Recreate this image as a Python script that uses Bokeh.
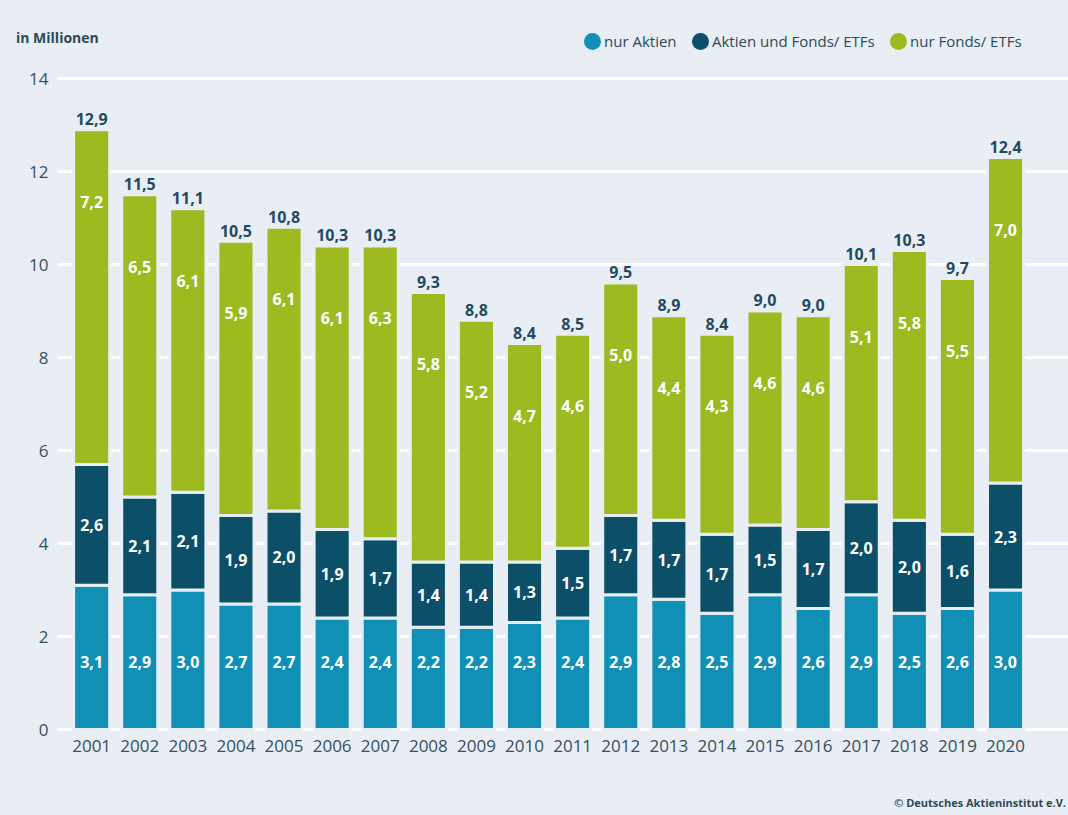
from bokeh.plotting import figure
from bokeh.layouts import column
from bokeh.models import ColumnDataSource, Range1d, FixedTicker, Div
from bokeh.core.properties import value
from bokeh.embed import file_html
from bokeh.resources import INLINE

# ---- data ----
years = [2001, 2002, 2003, 2004, 2005, 2006, 2007, 2008, 2009, 2010,
         2011, 2012, 2013, 2014, 2015, 2016, 2017, 2018, 2019, 2020]
nur_aktien = [3.1, 2.9, 3.0, 2.7, 2.7, 2.4, 2.4, 2.2, 2.2, 2.3,
              2.4, 2.9, 2.8, 2.5, 2.9, 2.6, 2.9, 2.5, 2.6, 3.0]
aktien_und_fonds = [2.6, 2.1, 2.1, 1.9, 2.0, 1.9, 1.7, 1.4, 1.4, 1.3,
                    1.5, 1.7, 1.7, 1.7, 1.5, 1.7, 2.0, 2.0, 1.6, 2.3]
nur_fonds = [7.2, 6.5, 6.1, 5.9, 6.1, 6.1, 6.3, 5.8, 5.2, 4.7,
             4.6, 5.0, 4.4, 4.3, 4.6, 4.6, 5.1, 5.8, 5.5, 7.0]
totals = [12.9, 11.5, 11.1, 10.5, 10.8, 10.3, 10.3, 9.3, 8.8, 8.4,
          8.5, 9.5, 8.9, 8.4, 9.0, 9.0, 10.1, 10.3, 9.7, 12.4]
series_names = ["nur Aktien", "Aktien und Fonds/ ETFs", "nur Fonds/ ETFs"]
y_ticks = [0, 2, 4, 6, 8, 10, 12, 14]
unit_label = "in Millionen"
source_note = "© Deutsches Aktieninstitut e.V."

# ---- styles ----
C_BLUE = "#1190b6"
C_DARK = "#0c4f68"
C_GREEN = "#9dba21"
series_colors = [C_BLUE, C_DARK, C_GREEN]
BG = "#e9eef5"
TXT = "#2b4a5a"
FONT = "Open Sans"
W = 1068
HEAD_H = 64
FOOT_H = 20
MAIN_H = 815 - HEAD_H - FOOT_H


def de(v):
    return f"{v:.1f}".replace(".", ",")


b1 = [0.0] * len(years)
t1 = nur_aktien
b2 = t1
t2 = [a + b for a, b in zip(nur_aktien, aktien_und_fonds)]
b3 = t2
t3 = [a + b for a, b in zip(t2, nur_fonds)]

src = ColumnDataSource(dict(
    x=years, b1=b1, t1=t1, b2=b2, t2=t2, b3=b3, t3=t3,
    l1=[de(v) for v in nur_aktien],
    l2=[de(v) for v in aktien_und_fonds],
    l3=[de(v) for v in nur_fonds],
    lt=[de(v) for v in totals],
    y1=[1.45] * len(years),
    y2=[(a + b) / 2 for a, b in zip(b2, t2)],
    y3=[t - 1.55 for t in t3],
    yt=[t + 0.1 for t in t3],
))

# ---- header (unit label + legend) ----
legend_x = [584, 692, 890]   # circle left edges (px)
parts = [f'<div style="position:absolute;left:16px;top:28px;font-family:\'{FONT}\';'
         f'font-size:14px;font-weight:bold;color:{TXT};line-height:20px;white-space:nowrap">{unit_label}</div>']
for name, colr, lx in zip(series_names, series_colors, legend_x):
    parts.append(f'<div style="position:absolute;left:{lx}px;top:33px;width:17px;height:17px;'
                 f'border-radius:50%;background:{colr}"></div>')
    parts.append(f'<div style="position:absolute;left:{lx + 20}px;top:30px;font-family:\'{FONT}\';'
                 f'font-size:15px;color:{TXT};line-height:22px;white-space:nowrap">{name}</div>')
head_html = (f'<div style="position:relative;width:{W}px;height:{HEAD_H}px;background:{BG};'
             f'overflow:hidden">' + "".join(parts) + '</div>')
head = Div(text=head_html, width=W, height=HEAD_H, margin=(0, 0, 0, 0),
           styles={"background-color": BG})

foot_html = (f'<div style="position:relative;width:{W}px;height:{FOOT_H}px;background:{BG};overflow:hidden">'
             f'<div style="position:absolute;right:2px;top:0px;font-family:\'{FONT}\';font-size:11px;'
             f'font-weight:bold;color:{TXT};line-height:16px;white-space:nowrap">{source_note}</div></div>')
foot = Div(text=foot_html, width=W, height=FOOT_H, margin=(0, 0, 0, 0),
           styles={"background-color": BG})

# ---- main chart ----
px_per_unit = 46.5
zero_page = 729
bottom_page = 732
y_end = (zero_page - HEAD_H) / px_per_unit
y_start = -(bottom_page - zero_page) / px_per_unit
x_start = 2000.29
x_end = x_start + (W - 57) / 48.1

p = figure(width=W, height=MAIN_H, output_backend="svg", toolbar_location=None,
           x_range=Range1d(x_start, x_end), y_range=Range1d(y_start, y_end),
           min_border_left=57, min_border_right=0, min_border_top=0,
           min_border_bottom=HEAD_H + MAIN_H - bottom_page, margin=(0, 0, 0, 0))
p.background_fill_color = BG
p.border_fill_color = BG
p.outline_line_color = None

p.xgrid.grid_line_color = None
p.ygrid.grid_line_color = "white"
p.ygrid.grid_line_width = 3

p.yaxis.ticker = FixedTicker(ticks=y_ticks)
p.xaxis.ticker = FixedTicker(ticks=years)
p.xaxis.major_label_overrides = {y: str(y) for y in years}
for ax in (p.xaxis[0], p.yaxis[0]):
    ax.axis_line_color = None
    ax.major_tick_line_color = None
    ax.minor_tick_line_color = None
    ax.major_tick_out = 0
    ax.major_tick_in = 0
    ax.major_label_text_font = FONT
    ax.major_label_text_font_size = "17px"
    ax.major_label_text_color = "#354f5f"
p.yaxis.major_label_standoff = 9
p.xaxis.major_label_standoff = 7

bw = 0.75
for bcol, tcol, colr in (("b1", "t1", C_BLUE), ("b2", "t2", C_DARK), ("b3", "t3", C_GREEN)):
    p.vbar(x="x", bottom=bcol, top=tcol, width=bw, source=src,
           fill_color=colr, line_color=BG, line_width=3)

for ycol, lcol in (("y1", "l1"), ("y2", "l2"), ("y3", "l3")):
    p.text(x="x", y=ycol, text=lcol, source=src, text_align="center",
           text_baseline="middle", text_color="white", text_font=value(FONT),
           text_font_style="bold", text_font_size="16px")
p.text(x="x", y="yt", text="lt", source=src, text_align="center",
       text_baseline="bottom", text_color="#1f4b61", text_font=value(FONT),
       text_font_style="bold", text_font_size="16px")

layout = column(head, p, foot, spacing=0, margin=(0, 0, 0, 0),
                styles={"background-color": BG})
open("out.html", "w").write(file_html(layout, INLINE))
